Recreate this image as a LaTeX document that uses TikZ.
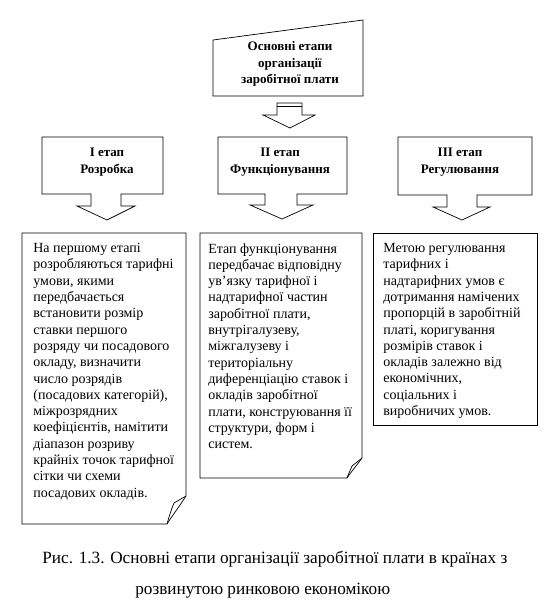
\documentclass[tikz,border=0pt]{standalone}
\usepackage{fontspec}
\setmainfont{Liberation Serif}
\begin{document}
\begin{tikzpicture}[x=1pt,y=-1pt, line width=0.7pt, line join=miter]
\tikzset{
 bodytext/.style={anchor=north west, inner sep=0pt, align=left, font=\fontsize{14}{16.3}\selectfont},
 headtext/.style={inner sep=0pt, align=center, font=\bfseries\fontsize{13}{16.5}\selectfont},
 captext/.style={inner sep=0pt, anchor=base west, font=\fontsize{17.2}{20}\selectfont},
 shape line/.style={draw=black},
}
\useasboundingbox (0,0) rectangle (557,600);
% top box
\draw[shape line] (213,40) -- (363,20) -- (363,96) -- (213,96) -- cycle;
\node[headtext] (top) at (290,64) {Основні етапи\\організації\\заробітної плати};
% top arrow
\draw[shape line] (277,103) -- (277,115) -- (263,115) -- (290,128) -- (315,115) -- (302,115) -- (302,103) -- cycle;
\draw[shape line] (277,106) -- (302,106);
% stage callouts
\draw[shape line] (42,137) -- (163,137) -- (163,194) -- (121,194) -- (121,206) -- (135,206) -- (107,220) -- (77,206) -- (91,206) -- (91,194) -- (42,194) -- cycle;
\draw[shape line] (218,137) -- (347,137) -- (347,194) -- (297,194) -- (297,205) -- (313,205) -- (282,219) -- (250,205) -- (265,205) -- (265,194) -- (218,194) -- cycle;
\draw[shape line] (398,137) -- (532,137) -- (532,195) -- (477,195) -- (477,207) -- (490,207) -- (462,220) -- (433,207) -- (447,207) -- (447,195) -- (398,195) -- cycle;
\node[headtext] (s1) at (107,162) {І етап\\Розробка};
\node[headtext] (s2) at (280,162) {ІІ етап\\Функціонування};
\node[headtext] (s3) at (460,162) {ІІІ етап\\Регулювання};
% detail boxes
\draw[shape line] (22,233) -- (186,233) -- (186,496) .. controls (179,507) and (172,516) .. (167,524) -- (22,524) -- cycle;
\draw[shape line] (186,496) -- (174,503) .. controls (171,510) and (169,517) .. (167,524);
\draw[shape line] (200,233) -- (362,233) -- (362,458) .. controls (357,465) and (351,472) .. (347,478) -- (200,478) -- cycle;
\draw[shape line] (362,458) -- (352,466) .. controls (350,471) and (348,475) .. (347,478);
\draw[shape line] (373,233) rectangle (537,425);
\node[bodytext] (d1) at (33,243) {На першому етапі\\розробляються тарифні\\умови, якими\\передбачається\\встановити розмір\\ставки першого\\розряду чи посадового\\окладу, визначити\\число розрядів\\(посадових категорій),\\міжрозрядних\\коефіцієнтів, намітити\\діапазон розриву\\крайніх точок тарифної\\сітки чи схеми\\посадових окладів.};
\node[bodytext] (d2) at (208,243) {Етап функціонування\\передбачає відповідну\\ув'язку тарифної і\\надтарифної частин\\заробітної плати,\\внутрігалузеву,\\міжгалузеву і\\територіальну\\диференціацію ставок і\\окладів заробітної\\плати, конструювання її\\структури, форм і\\систем.};
\node[bodytext] (d3) at (383,243) {Метою регулювання\\тарифних і\\надтарифних умов є\\дотримання намічених\\пропорцій в заробітній\\платі, коригування\\розмірів ставок і\\окладів залежно від\\економічних,\\соціальних і\\виробничих умов.};
% caption
\node[captext] (cap1) at (42,563) {Рис. 1.3. Основні етапи організації заробітної плати в країнах з};
\node[captext] (cap2) at (135,594) {розвинутою ринковою економікою};
\end{tikzpicture}
\end{document}
